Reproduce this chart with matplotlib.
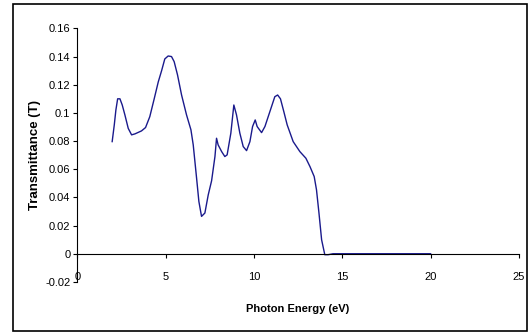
import matplotlib.pyplot as plt
from matplotlib.patches import Rectangle

plt.rcParams['font.family'] = ['Liberation Sans', 'DejaVu Sans']

# curva
energia = [1.97, 2.09, 2.18, 2.28, 2.41, 2.54, 2.69, 2.88, 3.07, 3.26, 3.63, 3.86,
           4.1, 4.35, 4.58, 4.77, 4.95, 5.14, 5.33, 5.48, 5.67, 5.9, 6.18, 6.43,
           6.56, 6.75, 6.88, 7.03, 7.22, 7.41, 7.6, 7.79, 7.88, 7.97, 8.17, 8.35,
           8.48, 8.69, 8.86, 9.01, 9.2, 9.39, 9.58, 9.77, 9.92, 10.07, 10.18,
           10.43, 10.62, 10.9, 11.18, 11.34, 11.5, 11.69, 11.88, 12.22, 12.6,
           12.94, 13.17, 13.41, 13.54, 13.68, 13.83, 14.01, 14.2, 14.48, 15.0,
           17.5, 20.0]
trans = [0.0796, 0.0915, 0.102, 0.110, 0.110, 0.1056, 0.0986, 0.089, 0.0844,
         0.0851, 0.0872, 0.0896, 0.0973, 0.110, 0.122, 0.130, 0.1383, 0.1404,
         0.140, 0.1364, 0.127, 0.1127, 0.0986, 0.088, 0.0773, 0.0537, 0.0371,
         0.0265, 0.0289, 0.0418, 0.0518, 0.069, 0.082, 0.0773, 0.0725, 0.069,
         0.0702, 0.0856, 0.1056, 0.0986, 0.0856, 0.0761, 0.0732, 0.0796, 0.0903,
         0.095, 0.0903, 0.086, 0.0903, 0.1009, 0.1115, 0.1127, 0.110, 0.1009,
         0.0915, 0.0796, 0.0725, 0.0678, 0.0619, 0.0548, 0.0454, 0.0289, 0.0099,
         -0.0007, -0.0007, 0.0, 0.0, 0.0, 0.0]

xticks = [0, 5, 10, 15, 20, 25]
yticks = [-0.02, 0, 0.02, 0.04, 0.06, 0.08, 0.1, 0.12, 0.14, 0.16]
ylabels = ['-0.02', '0', '0.02', '0.04', '0.06', '0.08', '0.1', '0.12', '0.14', '0.16']

fig = plt.figure(figsize=(5.3, 3.34), dpi=100)
ax = fig.add_axes([0.146, 0.156, 0.833, 0.759])

ax.plot(energia, trans, color='#1a1a8c', lw=1.0)

ax.set_xlim(0, 25)
ax.set_ylim(-0.02, 0.16)
ax.set_xticks(xticks)
ax.set_xticklabels([str(v) for v in xticks])
ax.set_yticks(yticks)
ax.set_yticklabels(ylabels)

ax.spines['top'].set_visible(False)
ax.spines['right'].set_visible(False)
ax.spines['bottom'].set_position(('data', 0))
ax.spines['bottom'].set_linewidth(0.8)
ax.spines['left'].set_linewidth(0.8)
ax.tick_params(axis='x', direction='out', length=3, width=0.8, pad=10, labelsize=8)
ax.tick_params(axis='y', direction='out', length=3, width=0.8, pad=2, labelsize=8)

ax.set_xlabel('Photon Energy (eV)', fontsize=8, fontweight='bold', labelpad=16)
ax.set_ylabel('Transmittance (T)', fontsize=9.5, fontweight='bold', labelpad=3)

# moldura externa
fig.patches.append(Rectangle((12.5 / 530, 3 / 334), 514.5 / 530, 327 / 334,
                             transform=fig.transFigure, fill=False,
                             edgecolor='black', lw=1.2))

fig.savefig('out.png', dpi=100)
